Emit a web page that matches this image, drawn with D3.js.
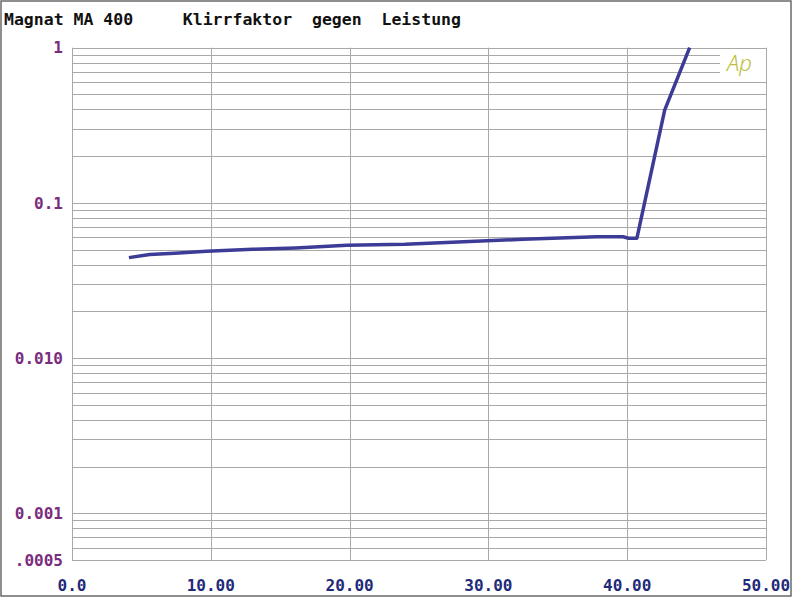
<!DOCTYPE html>
<html>
<head>
<meta charset="utf-8">
<script src="https://cdn.jsdelivr.net/npm/d3@7"></script>
<style>
  html, body { margin: 0; padding: 0; background: #fff; }
  svg { display: block; }
  text { font-family: "DejaVu Sans Mono", "Liberation Mono", monospace; font-weight: bold; }
</style>
</head>
<body>
<div id="chart"></div>
<script>
// power in watts vs THD in percent
const power = [4.1, 5.6, 7.4, 9.7, 13.0, 16.1, 19.8, 24.0, 27.8, 32.5, 37.8, 39.7, 40.1, 40.7, 42.7, 44.5];
const thd = [0.0444, 0.0465, 0.0474, 0.0488, 0.0502, 0.0513, 0.0533, 0.0542, 0.0560, 0.0583, 0.0605, 0.0605, 0.0592, 0.0592, 0.396, 1.0];

const xTicks = [0, 10, 20, 30, 40, 50];
const xTickLabels = ["0.0", "10.00", "20.00", "30.00", "40.00", "50.00"];
const yTicks = [1, 0.1, 0.01, 0.001, 0.0005];
const yTickLabels = ["1", "0.1", "0.010", "0.001", ".0005"];

const width = 800, height = 606;
const margin = { top: 47.7, left: 72, right: 34, bottom: 46 };

const svg = d3.select("#chart")
    .append("svg")
    .attr("width", width)
    .attr("height", height);

// outer frame
svg.append("rect")
    .attr("x", 1).attr("y", 1)
    .attr("width", 790).attr("height", 595)
    .attr("fill", "#fff")
    .attr("stroke", "#6a6a6a")
    .attr("stroke-width", 1.5);

const x = d3.scaleLinear().domain([0, 50]).range([margin.left, width - margin.right]);
const y = d3.scaleLog().domain([0.0005, 1]).range([height - margin.bottom, margin.top]);

// minor log grid: 1..9 per decade
const gridVals = [];
[0.0001, 0.001, 0.01, 0.1].forEach(dec => {
    for (let k = 1; k <= 9; k++) {
        const v = +(dec * k).toPrecision(3);
        if (v >= 0.0005 && v <= 1) gridVals.push(v);
    }
});
gridVals.push(1);

const grid = svg.append("g").attr("stroke", "#a8a8a8").attr("stroke-width", 1);

grid.selectAll("line.h")
    .data(gridVals)
    .join("line")
    .attr("class", "h")
    .attr("x1", x(0))
    // leave room for the Ap logo
    .attr("x2", d => (d >= 0.65 && d < 0.95) ? 720 : x(50))
    .attr("y1", d => Math.round(y(d)) + 0.5)
    .attr("y2", d => Math.round(y(d)) + 0.5);

grid.selectAll("line.v")
    .data(xTicks)
    .join("line")
    .attr("class", "v")
    .attr("x1", d => Math.round(x(d)) + 0.5)
    .attr("x2", d => Math.round(x(d)) + 0.5)
    .attr("y1", y(1))
    .attr("y2", y(0.0005));

// y labels
svg.append("g")
    .selectAll("text")
    .data(yTicks)
    .join("text")
    .attr("x", 63)
    .attr("y", d => y(d))
    .attr("dy", "0.36em")
    .attr("text-anchor", "end")
    .attr("font-size", "16px")
    .attr("fill", "#7a2c7e")
    .text((d, i) => yTickLabels[i]);

// x labels
svg.append("g")
    .selectAll("text")
    .data(xTicks)
    .join("text")
    .attr("x", d => x(d))
    .attr("y", 591)
    .attr("text-anchor", "middle")
    .attr("font-size", "16px")
    .attr("fill", "#1f2a78")
    .text((d, i) => xTickLabels[i]);

// title
svg.append("text")
    .attr("x", 4)
    .attr("y", 25)
    .attr("font-size", "16.5px")
    .attr("fill", "#111")
    .attr("xml:space", "preserve")
    .style("white-space", "pre")
    .text("Magnat MA 400     Klirrfaktor  gegen  Leistung");

// Ap logo
svg.append("text")
    .attr("x", 727)
    .attr("y", 71)
    .style("font-family", "'Noto Sans', sans-serif")
    .style("font-weight", "300")
    .style("font-style", "italic")
    .attr("font-size", "22px")
    .attr("fill", "#bdbd3a")
    .text("Ap");

// the curve
const line = d3.line()
    .x((d, i) => x(power[i]))
    .y((d, i) => y(thd[i]));

svg.append("path")
    .datum(thd)
    .attr("d", line)
    .attr("fill", "none")
    .attr("stroke", "#3c3c96")
    .attr("stroke-width", 3.5)
    .attr("stroke-linejoin", "round");
</script>
</body>
</html>
